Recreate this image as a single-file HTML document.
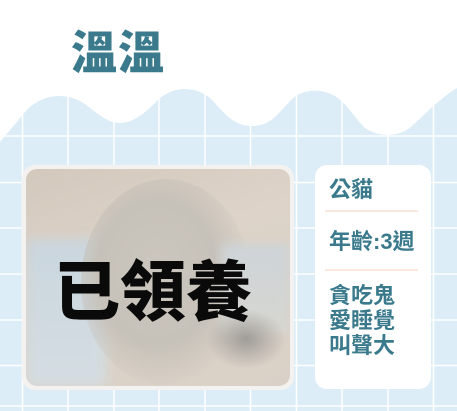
<!DOCTYPE html>
<html><head><meta charset="utf-8"><style>
body{margin:0;width:457px;height:411px;overflow:hidden;background:#fff;font-family:"Liberation Sans","Noto Sans CJK TC",sans-serif;}
.abs{position:absolute;}
</style></head><body>
<div class="abs" style="left:0;top:0;width:457px;height:411px;">
<svg class="abs" style="left:0;top:0" width="457" height="411">
<rect x="0" y="0" width="457" height="411" fill="#dcedf8"/>
<g stroke="#fff" stroke-width="1.5">
<line x1="22.5" y1="0" x2="22.5" y2="411"/><line x1="68" y1="0" x2="68" y2="411"/><line x1="114" y1="0" x2="114" y2="411"/><line x1="159" y1="0" x2="159" y2="411"/><line x1="205" y1="0" x2="205" y2="411"/><line x1="250.5" y1="0" x2="250.5" y2="411"/><line x1="296.5" y1="0" x2="296.5" y2="411"/><line x1="342" y1="0" x2="342" y2="411"/><line x1="388" y1="0" x2="388" y2="411"/><line x1="433.5" y1="0" x2="433.5" y2="411"/>
<line x1="0" y1="136" x2="457" y2="136"/><line x1="0" y1="182.5" x2="457" y2="182.5"/><line x1="0" y1="228" x2="457" y2="228"/><line x1="0" y1="274" x2="457" y2="274"/><line x1="0" y1="320" x2="457" y2="320"/><line x1="0" y1="365.5" x2="457" y2="365.5"/><line x1="0" y1="406" x2="457" y2="406"/>
</g>
<path fill="#fff" d="M0,0 L457,0 L457,88 C450,92 440,100 430,109 L412,126 C400,137 380,138 365,128 C355,118 348,106 338,98 C320,86 300,90 290,101 C278,114 270,126 252,126 C232,126 224,112 210,98 C195,86 175,86 160,98 C148,110 135,123 120,123 C105,123 95,110 80,101 C62,92 40,95 25,112 L0,142 Z"/>
</svg>
<div class="abs" style="left:71px;top:23px;font-size:46px;font-weight:900;color:#3a7a8c;letter-spacing:1px;line-height:60px;">溫溫</div>
<div class="abs" style="left:22px;top:165px;width:272px;height:225px;background:#f4f2f0;border-radius:13px;"></div>
<div class="abs" style="left:26px;top:169px;width:264px;height:217px;border-radius:11px;overflow:hidden;background:linear-gradient(160deg,#d3c8bc 0%,#ddd3c8 40%,#d9d1c7 100%);">
 <div class="abs" style="left:0;top:70px;width:80px;height:147px;background:linear-gradient(180deg,#cad6de,#d4dde2);filter:blur(6px);"></div>
 <div class="abs" style="left:55px;top:10px;width:170px;height:207px;border-radius:50%;background:radial-gradient(ellipse at 45% 45%,#cbc6be 0%,#c6c1b9 45%,rgba(210,204,196,0) 72%);"></div>
 <div class="abs" style="left:195px;top:75px;width:69px;height:90px;background:linear-gradient(180deg,#cdd4d8,#d7d6d0);filter:blur(5px);"></div>
 <div class="abs" style="left:180px;top:140px;width:80px;height:60px;border-radius:50%;background:radial-gradient(#a09c98,rgba(190,186,180,0) 70%);"></div>
 <div class="abs" style="left:28px;top:86px;font-size:66px;font-weight:900;color:#0a0a0a;line-height:74px;white-space:nowrap;">已領養</div>
</div>
<div class="abs" style="left:315px;top:165px;width:116px;height:224px;background:#fff;border-radius:12px;color:#3a7a8c;font-weight:700;">
 <div class="abs" style="left:14px;top:12px;font-size:22px;line-height:26px;">公貓</div>
 <div class="abs" style="left:10px;top:45px;width:93px;height:2px;background:#fbe9df;"></div>
 <div class="abs" style="left:14px;top:64px;font-size:22px;line-height:26px;white-space:nowrap;">年齡:3週</div>
 <div class="abs" style="left:10px;top:104px;width:93px;height:2px;background:#fbe9df;"></div>
 <div class="abs" style="left:14px;top:118px;font-size:22px;line-height:25px;">貪吃鬼<br>愛睡覺<br>叫聲大</div>
</div>
</div>
</body></html>
